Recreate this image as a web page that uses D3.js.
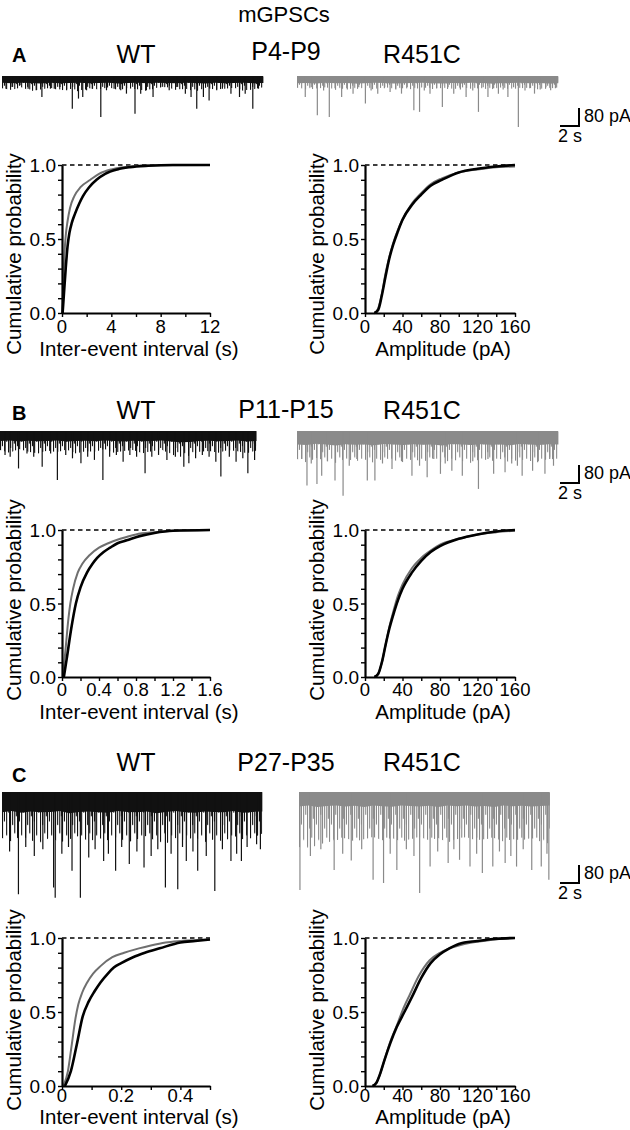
<!DOCTYPE html>
<html><head><meta charset="utf-8">
<script src="https://cdn.jsdelivr.net/npm/d3@7"></script>
<style>
body{margin:0;background:#fff;}
svg{display:block;font-family:"Liberation Sans",Arial,Helvetica,sans-serif;}
</style></head><body>
<svg id="fig" width="630" height="1130"></svg>
<script>
// ================= DATA =================
const figureTitle = "mGPSCs";
const panelLetters = ["A", "B", "C"];
const ageGroups = ["P4-P9", "P11-P15", "P27-P35"];
const genotypes = ["WT", "R451C"];
const yLabel = "Cumulative probability";
const ieiLabel = "Inter-event interval (s)";
const ampLabel = "Amplitude (pA)";
const scaleBarPA = 80;   // pA
const scaleBarS = 2;     // s

const yTicks = [0, 0.1, 0.2, 0.3, 0.4, 0.5, 0.6, 0.7, 0.8, 0.9, 1.0];
const yTickLabels = [0, 0.5, 1.0];

const ieiMax = [12, 1.6, 0.5];
const ieiTicksA = [0, 2, 4, 6, 8, 10, 12];
const ieiTicksB = [0, 0.2, 0.4, 0.6, 0.8, 1.0, 1.2, 1.4, 1.6];
const ieiTicksC = [0, 0.1, 0.2, 0.3, 0.4, 0.5];
const ieiLabelsA = [0, 4, 8, 12];
const ieiLabelsB = [0, 0.4, 0.8, 1.2, 1.6];
const ieiLabelsC = [0, 0.2, 0.4];
const ampMax = 160;
const ampTicks = [0, 20, 40, 60, 80, 100, 120, 140, 160];
const ampLabels = [0, 40, 80, 120, 160];

// cumulative distributions [x, probability]
const ieiA_WT = [[0.05,0],[0.15,0.12],[0.3,0.3],[0.45,0.45],[0.6,0.54],[0.8,0.61],[1.05,0.67],[1.4,0.74],[1.7,0.79],[2.2,0.85],[2.8,0.9],[3.5,0.94],[4.5,0.97],[5.5,0.985],[7,0.995],[9,1],[12,1]];
const ieiA_R451C = [[0.03,0],[0.1,0.2],[0.2,0.4],[0.3,0.52],[0.45,0.62],[0.65,0.71],[1,0.79],[1.5,0.85],[2.3,0.9],[3,0.94],[4,0.97],[5,0.985],[6,0.993],[8,0.998],[12,1]];
const ampA_WT = [[10,0],[14,0.02],[18,0.12],[22,0.25],[26,0.37],[30,0.46],[35,0.55],[40,0.63],[50,0.73],[60,0.8],[70,0.86],[82,0.9],[100,0.95],[120,0.975],[140,0.99],[160,1]];
const ampA_R451C = [[10,0],[14,0.03],[18,0.13],[22,0.27],[26,0.38],[30,0.47],[35,0.56],[40,0.63],[50,0.74],[60,0.81],[70,0.87],[82,0.91],[100,0.95],[120,0.97],[140,0.985],[160,0.99]];

const ieiB_WT = [[0.02,0],[0.05,0.12],[0.1,0.33],[0.15,0.5],[0.2,0.61],[0.27,0.71],[0.33,0.77],[0.38,0.81],[0.45,0.85],[0.52,0.88],[0.6,0.91],[0.7,0.93],[0.85,0.96],[1,0.98],[1.2,0.995],[1.6,1]];
const ieiB_R451C = [[0.01,0],[0.04,0.2],[0.07,0.4],[0.09,0.5],[0.12,0.6],[0.17,0.71],[0.22,0.77],[0.3,0.83],[0.4,0.88],[0.5,0.91],[0.63,0.94],[0.8,0.97],[1,0.985],[1.2,0.995],[1.6,1]];
const ampB_WT = [[10,0],[14,0.02],[18,0.1],[22,0.22],[26,0.33],[30,0.42],[35,0.52],[40,0.6],[50,0.71],[60,0.79],[70,0.85],[80,0.89],[100,0.94],[120,0.97],[140,0.99],[160,1]];
const ampB_R451C = [[10,0],[14,0.02],[18,0.1],[22,0.22],[26,0.34],[30,0.44],[35,0.55],[40,0.63],[50,0.74],[60,0.81],[70,0.86],[80,0.9],[100,0.94],[120,0.97],[140,0.985],[160,0.995]];

const ieiC_WT = [[0.01,0],[0.03,0.1],[0.05,0.28],[0.07,0.47],[0.09,0.57],[0.11,0.64],[0.13,0.7],[0.155,0.76],[0.175,0.8],[0.2,0.83],[0.24,0.87],[0.28,0.9],[0.33,0.93],[0.4,0.97],[0.45,0.98],[0.5,0.99]];
const ieiC_R451C = [[0.005,0],[0.02,0.1],[0.033,0.28],[0.045,0.45],[0.055,0.55],[0.068,0.63],[0.085,0.7],[0.105,0.76],[0.13,0.81],[0.17,0.87],[0.21,0.9],[0.26,0.93],[0.3,0.95],[0.35,0.97],[0.4,0.98],[0.5,0.99]];
const ampC_WT = [[8,0],[12,0.02],[16,0.08],[21,0.18],[27,0.29],[34,0.4],[42,0.5],[50,0.6],[60,0.73],[70,0.83],[80,0.89],[90,0.93],[100,0.96],[120,0.98],[140,0.995],[160,1]];
const ampC_R451C = [[8,0],[12,0.02],[16,0.08],[21,0.18],[27,0.3],[34,0.41],[40,0.51],[48,0.62],[57,0.74],[69,0.85],[80,0.9],[90,0.93],[103,0.955],[120,0.975],[140,0.99],[160,1]];

// example current traces: duration (s), noise band depth (pA) and fringe depth (pA) at even time steps, events [time s, amplitude pA]
const traceDur = [[27.5, 27.5], [27.0, 27.5], [27.4, 26.4]];
const denseA_WT = [26,28,25,27,29,26,28,27,25,28,27,26,29,27,26,28,25,27,28,26,27,29,26,28,27,25,28,27];
const fringeA_WT = [50,58,45,62,55,48,60,52,66,50,55,45,58,50,54,62,48,44,58,52,64,48,56,52,48,62,54,46];
const spikesA_WT = [[0.42,52],[1.06,44],[1.9,37],[2.75,52],[3.6,59],[4.2,89],[5.1,52],[5.5,52],[6.1,44],[6.8,59],[7.4,141],[8.05,96],[8.5,89],[8.9,59],[9.5,52],[10.4,178],[11.0,59],[11.8,52],[12.5,59],[13.1,74],[14.0,163],[14.6,74],[15.2,59],[15.9,89],[16.7,44],[17.6,59],[18.4,44],[19.3,74],[19.9,89],[20.5,141],[21.2,89],[21.8,104],[22.6,59],[23.2,52],[24.1,74],[25.0,89],[25.6,74],[26.4,141],[27.0,52]];
const denseA_R451C = [28,27,29,26,28,27,29,28,26,27,29,28,27,26,28,29,27,28,26,27,29,28,27,26,28,27,29,28];
const fringeA_R451C = [48,55,52,46,58,50,54,48,56,44,52,50,55,46,53,49,57,45,52,50,56,47,54,50,48,55,51,47];
const spikesA_R451C = [[0.87,89],[1.5,45],[2.14,170],[2.8,60],[3.4,178],[4.0,50],[4.7,89],[5.3,55],[5.9,74],[6.5,45],[7.2,118],[7.8,60],[8.5,74],[9.2,50],[9.8,67],[10.4,55],[11.0,74],[11.6,45],[12.3,148],[12.9,155],[13.4,60],[14.0,74],[14.7,50],[15.3,133],[15.9,45],[16.5,74],[17.2,55],[17.8,89],[18.5,60],[19.1,155],[19.6,45],[20.1,89],[20.7,50],[21.2,74],[21.7,55],[22.2,89],[22.8,45],[23.3,222],[24.0,60],[24.5,50],[25.0,74],[25.6,55],[26.2,45],[26.7,59],[27.2,50]];

const denseB_WT = [40,38,42,39,41,40,38,42,40,39,41,38,40,42,39,41,40,38,42,45,44,40,39,41,40,38,42,40];
const fringeB_WT = [80,92,75,88,95,82,90,78,96,85,88,76,92,84,80,94,86,78,100,110,105,88,84,92,80,86,94,82];
const spikesB_WT = [[0.53,102],[1.07,110],[1.95,162],[2.84,95],[3.55,110],[4.44,154],[5.33,95],[6.04,213],[6.92,102],[7.63,117],[8.52,139],[9.23,110],[9.94,124],[10.83,213],[11.54,110],[12.25,102],[12.96,132],[13.67,102],[14.38,110],[15.27,183],[15.98,110],[16.69,102],[17.57,124],[18.46,110],[19.35,154],[19.88,139],[20.59,117],[21.3,102],[22.01,110],[22.72,132],[23.25,198],[24.14,110],[24.85,132],[25.56,117],[26.09,183],[26.8,124]];
const denseB_R451C = [55,58,52,56,60,54,57,55,59,53,56,58,54,57,55,60,53,56,58,54,57,55,59,53,56,58,54,56];
const fringeB_R451C = [120,135,115,128,140,118,130,122,138,116,126,134,120,132,118,136,124,128,140,118,130,120,134,122,128,136,118,124];
const spikesB_R451C = [[0.5,120],[1.05,238],[1.5,140],[2.1,231],[2.6,194],[3.2,130],[4.0,216],[4.85,283],[5.5,150],[6.3,120],[7.4,216],[8.2,216],[9.0,140],[10.0,164],[11.0,130],[12.1,194],[12.9,150],[13.7,201],[14.4,120],[15.1,186],[15.6,140],[16.3,172],[17.4,194],[18.5,130],[19.1,253],[20.1,120],[20.7,186],[21.9,179],[22.6,140],[23.2,150],[23.7,194],[24.8,172],[25.4,130],[26.1,186],[26.6,120],[27.0,150]];

const denseC_WT = [85,80,88,82,86,84,80,90,84,82,86,88,80,84,86,82,90,84,80,86,88,82,84,86,80,88,84,82];
const fringeC_WT = [200,215,190,210,225,195,220,205,190,215,200,210,195,220,205,190,215,225,200,210,195,220,205,215,190,205,200,180];
const spikesC_WT = [[0.8,260],[1.73,450],[2.5,240],[3.4,280],[4.3,250],[5.43,420],[5.6,465],[6.3,270],[7.0,240],[7.37,346],[8.25,465],[9.13,287],[9.8,250],[10.7,302],[11.2,270],[11.96,346],[12.6,240],[13.4,316],[14.2,260],[14.95,331],[15.7,280],[16.4,250],[17.2,420],[17.8,270],[18.5,428],[19.0,240],[19.4,302],[20.1,260],[20.6,346],[21.5,280],[22.4,435],[23.2,250],[24.1,302],[24.7,270],[25.2,302],[25.8,240],[26.8,228],[27.2,250]];
const denseC_R451C = [60,56,62,58,55,60,57,62,56,59,61,55,58,60,57,62,56,59,55,60,58,62,56,59,57,60,58,55];
const fringeC_R451C = [240,250,230,220,210,200,215,205,195,210,200,215,205,195,210,200,220,205,195,210,205,200,215,205,210,200,215,225];
const spikesC_R451C = [[0.1,431],[1.2,280],[2.3,250],[3.7,342],[4.6,270],[5.5,300],[6.6,250],[7.8,386],[8.9,400],[9.6,270],[10.3,342],[11.3,250],[12.1,280],[12.7,444],[13.8,327],[14.6,260],[15.7,311],[16.3,250],[16.9,297],[18.0,327],[18.7,270],[19.3,355],[20.4,327],[21.1,260],[21.7,311],[22.3,280],[22.9,327],[23.6,250],[24.5,342],[25.5,327],[26.1,270],[26.3,386]];

// ================= LAYOUT =================
const PX_PER_S = 9.5;      // 2 s -> 19 px
const PX_PER_80PA = 18;    // 80 pA -> 18 px
const rowLayout = [
  {traceTop: 77,  barBottom: 126, titleY: 63,  letterY: 62,  ageY: 60,  plotTop: 165, plotBottom: 313,  tickDy: 20, titleDy: 43, ylabC: 254},
  {traceTop: 432, barBottom: 483, titleY: 419, letterY: 420, ageY: 418, plotTop: 530, plotBottom: 677,  tickDy: 19, titleDy: 42, ylabC: 600},
  {traceTop: 793, barBottom: 883, titleY: 771, letterY: 782, ageY: 771, plotTop: 938, plotBottom: 1086, tickDy: 16, titleDy: 38, ylabC: 1010}
];
const traceX0 = [[2, 297], [0, 297], [2, 299]];
const leftPlotX = [62, 210], rightPlotX = [365, 515];
const traceColor = {WT: "#111111", R451C: "#8a8a8a"};
const cdfColor = {WT: "#000000", R451C: "#6f6f6f"};
// irregular comb used to texture the dense event fringe: [x offset in tile, relative length]
const combTile = 15;
const combLines = [[0, 1], [1.9, 0.55], [4.1, 0.82], [6.2, 0.38], [8.0, 0.95], [10.1, 0.62], [12.2, 0.78], [13.8, 0.45]];

const rows = [
  {ieiTicks: ieiTicksA, ieiLabels: ieiLabelsA,
   iei: {WT: ieiA_WT, R451C: ieiA_R451C}, amp: {WT: ampA_WT, R451C: ampA_R451C},
   tr: {WT: {dense: denseA_WT, fringe: fringeA_WT, spikes: spikesA_WT}, R451C: {dense: denseA_R451C, fringe: fringeA_R451C, spikes: spikesA_R451C}}},
  {ieiTicks: ieiTicksB, ieiLabels: ieiLabelsB,
   iei: {WT: ieiB_WT, R451C: ieiB_R451C}, amp: {WT: ampB_WT, R451C: ampB_R451C},
   tr: {WT: {dense: denseB_WT, fringe: fringeB_WT, spikes: spikesB_WT}, R451C: {dense: denseB_R451C, fringe: fringeB_R451C, spikes: spikesB_R451C}}},
  {ieiTicks: ieiTicksC, ieiLabels: ieiLabelsC,
   iei: {WT: ieiC_WT, R451C: ieiC_R451C}, amp: {WT: ampC_WT, R451C: ampC_R451C},
   tr: {WT: {dense: denseC_WT, fringe: fringeC_WT, spikes: spikesC_WT}, R451C: {dense: denseC_R451C, fringe: fringeC_R451C, spikes: spikesC_R451C}}}
];

// ================= DRAW =================
const svg = d3.select("#fig");
svg.append("rect").attr("width", 630).attr("height", 1130).attr("fill", "#fff");
const defs = svg.append("defs");

const fmt = d3.format("~g");
const fmtY = d3.format(".1f");

svg.append("text").attr("x", 284).attr("y", 22).attr("text-anchor", "middle")
  .attr("font-size", 22).text(figureTitle);

function drawTrace(g, tr, dur, x0, top, key, id) {
  const x = d3.scaleLinear().domain([0, dur]).range([x0, x0 + dur * PX_PER_S]);
  const y = d3.scaleLinear().domain([0, scaleBarPA]).range([top, top + PX_PER_80PA]);
  const tAt = (i, n) => i * dur / (n - 1);
  const H = y(d3.max(tr.fringe)) - top + 1;
  const pat = defs.append("pattern").attr("id", id)
    .attr("patternUnits", "userSpaceOnUse").attr("width", combTile).attr("height", H + 40)
    .attr("patternTransform", `translate(${x0},${top})`);
  pat.selectAll("rect").data(combLines).join("rect")
    .attr("x", d => d[0]).attr("y", 0).attr("width", 1.1).attr("height", d => d[1] * H)
    .attr("fill", traceColor[key]);
  g.append("path").datum(tr.fringe)
    .attr("d", d3.area().x((d, i) => x(tAt(i, tr.fringe.length))).y0(top).y1(d => y(d)))
    .attr("fill", `url(#${id})`);
  g.append("path").datum(tr.dense)
    .attr("d", d3.area().x((d, i) => x(tAt(i, tr.dense.length))).y0(top - 1).y1(d => y(d)))
    .attr("fill", traceColor[key]);
  g.selectAll(null).data(tr.spikes).join("line")
    .attr("x1", d => x(d[0])).attr("x2", d => x(d[0]))
    .attr("y1", top).attr("y2", d => y(d[1]))
    .attr("stroke", traceColor[key]).attr("stroke-width", 1.2);
}

function drawCDF(g, xr, lay, xMax, xTicks, xLabels, series, xTitle) {
  const x = d3.scaleLinear().domain([0, xMax]).range(xr);
  const y = d3.scaleLinear().domain([0, 1]).range([lay.plotBottom, lay.plotTop]);
  g.append("line").attr("x1", x(0)).attr("x2", x(xMax)).attr("y1", y(1)).attr("y2", y(1))
    .attr("stroke", "#000").attr("stroke-width", 1.6).attr("stroke-dasharray", "4.5,3.5");
  const line = d3.line().x(d => x(d[0])).y(d => y(d[1])).curve(d3.curveMonotoneX);
  ["R451C", "WT"].forEach(k => {
    g.append("path").datum(series[k]).attr("d", line).attr("fill", "none")
      .attr("stroke", cdfColor[k]).attr("stroke-width", k === "WT" ? 2.6 : 2.0)
      .attr("stroke-linejoin", "round");
  });
  const ya = g.append("g").attr("transform", `translate(${x(0)},0)`)
    .call(d3.axisLeft(y).tickValues(yTicks).tickSize(4).tickSizeOuter(0).tickFormat(""));
  const xa = g.append("g").attr("transform", `translate(0,${y(0)})`)
    .call(d3.axisBottom(x).tickValues(xTicks).tickSize(4).tickSizeOuter(0).tickFormat(""));
  [ya, xa].forEach(a => {
    a.select(".domain").attr("stroke", "#000").attr("stroke-width", 2.2);
    a.selectAll(".tick line").attr("stroke", "#000").attr("stroke-width", 1.4);
  });
  g.selectAll(null).data(yTickLabels).join("text")
    .attr("x", x(0) - 6).attr("y", d => y(d) + 7).attr("text-anchor", "end")
    .attr("font-size", 19).text(d => fmtY(d));
  g.selectAll(null).data(xLabels).join("text")
    .attr("x", d => x(d)).attr("y", lay.plotBottom + lay.tickDy).attr("text-anchor", "middle")
    .attr("font-size", 18.5).text(d => fmt(d));
  g.append("text").attr("x", (xr[0] + xr[1]) / 2 + 3).attr("y", lay.plotBottom + lay.titleDy)
    .attr("text-anchor", "middle").attr("font-size", 20.5).text(xTitle);
  g.append("text").attr("transform", `translate(${x(0) - 41},${lay.ylabC}) rotate(-90)`)
    .attr("text-anchor", "middle").attr("font-size", 20.5).text(yLabel);
}

rows.forEach((row, r) => {
  const lay = rowLayout[r];
  const g = svg.append("g");
  g.append("text").attr("x", 12).attr("y", lay.letterY).attr("font-size", 20)
    .attr("font-weight", "bold").text(panelLetters[r]);
  g.append("text").attr("x", 136).attr("y", lay.titleY).attr("text-anchor", "middle")
    .attr("font-size", 25).text(genotypes[0]);
  g.append("text").attr("x", 286).attr("y", lay.ageY).attr("text-anchor", "middle")
    .attr("font-size", 25).text(ageGroups[r]);
  g.append("text").attr("x", 422).attr("y", lay.titleY).attr("text-anchor", "middle")
    .attr("font-size", 25).text(genotypes[1]);

  genotypes.forEach((k, j) => drawTrace(g, row.tr[k], traceDur[r][j], traceX0[r][j], lay.traceTop, k, `comb-${r}-${j}`));

  const sbx = d3.scaleLinear().domain([0, scaleBarS]).range([0, scaleBarS * PX_PER_S]);
  const sby = d3.scaleLinear().domain([0, scaleBarPA]).range([0, PX_PER_80PA]);
  const bx = 579, by = lay.barBottom;
  g.append("path").attr("d", `M${bx - sbx(scaleBarS)},${by}H${bx}V${by - sby(scaleBarPA)}`)
    .attr("fill", "none").attr("stroke", "#000").attr("stroke-width", 2);
  g.append("text").attr("x", bx + 5).attr("y", by - 4).attr("font-size", 18).text(scaleBarPA + " pA");
  g.append("text").attr("x", bx - 21).attr("y", by + 16).attr("font-size", 18).text(scaleBarS + " s");

  drawCDF(g.append("g"), leftPlotX, lay, ieiMax[r], row.ieiTicks, row.ieiLabels, row.iei, ieiLabel);
  drawCDF(g.append("g"), rightPlotX, lay, ampMax, ampTicks, ampLabels, row.amp, ampLabel);
});
</script>
</body></html>
